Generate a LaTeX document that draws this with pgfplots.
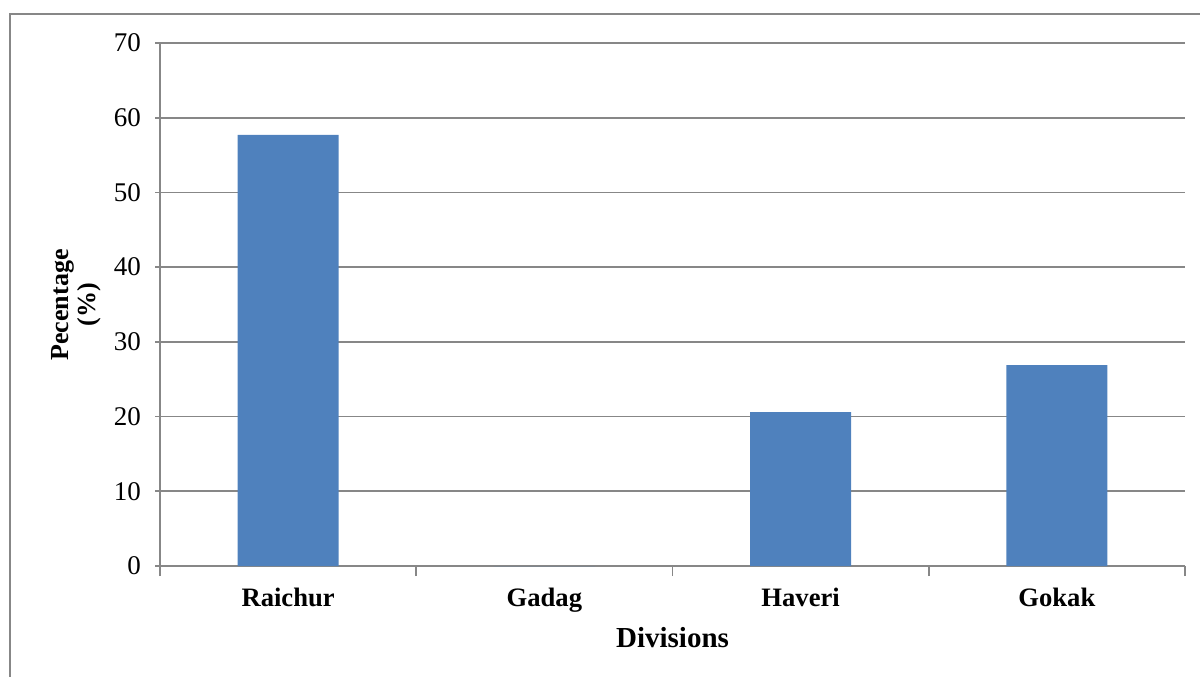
\documentclass[border=0pt]{standalone}
\usepackage{pgfplots}
\pgfplotsset{compat=1.18}
\usepackage{fontspec}
\setmainfont{Liberation Serif}
\definecolor{barblue}{HTML}{4F81BD}
\definecolor{gridgray}{HTML}{878787}
\begin{document}
\begin{tikzpicture}
\useasboundingbox (0pt,0pt) rectangle (600pt,338pt);
\begin{scope}
\clip (0pt,0pt) rectangle (600pt,338pt);
\draw[gridgray, line width=0.9pt] (5pt,-5pt) -- (5pt,331pt) -- (610pt,331pt);
\end{scope}
\begin{axis}[
  at={(80pt,55pt)}, anchor=south west,
  scale only axis, width=512.5pt, height=261.5pt,
  xmin=-0.5, xmax=3.5, ymin=0, ymax=70,
  axis x line=bottom, axis y line=left,
  axis line style={gridgray, line width=0.8pt, -},
  ytick={0,10,...,70},
  ymajorgrids, grid style={gridgray, line width=0.8pt},
  xtick={0,1,2,3},
  xticklabels={Raichur,Gadag,Haveri,Gokak},
  minor xtick={-0.5,0.5,1.5,2.5,3.5},
  tick align=outside,
  major tick length=2.5pt,
  x tick style={draw=none},
  minor x tick style={draw=gridgray, line width=0.8pt},
  minor tick length=5pt,
  y tick style={gridgray, line width=0.8pt},
  ticklabel style={font=\fontsize{13.5}{15}\selectfont},
  /pgf/number format/assume math mode=true,
  yticklabel style={xshift=-3.5pt},
  xticklabel style={font=\fontsize{13.3}{15}\selectfont\bfseries, yshift=-5pt},
  xlabel={Divisions},
  xlabel style={font=\fontsize{14.5}{16}\selectfont\bfseries, yshift=-0.5pt},
  ybar, bar width=50.5pt,
]
\addplot[fill=barblue, draw=none] coordinates {(0,57.7) (1,0) (2,20.6) (3,26.9)};
\end{axis}
\node[rotate=90, align=center, font=\fontsize{13}{13.5}\selectfont\bfseries] at (38pt,185.5pt) {Pecentage\\(\%)};
\end{tikzpicture}
\end{document}
